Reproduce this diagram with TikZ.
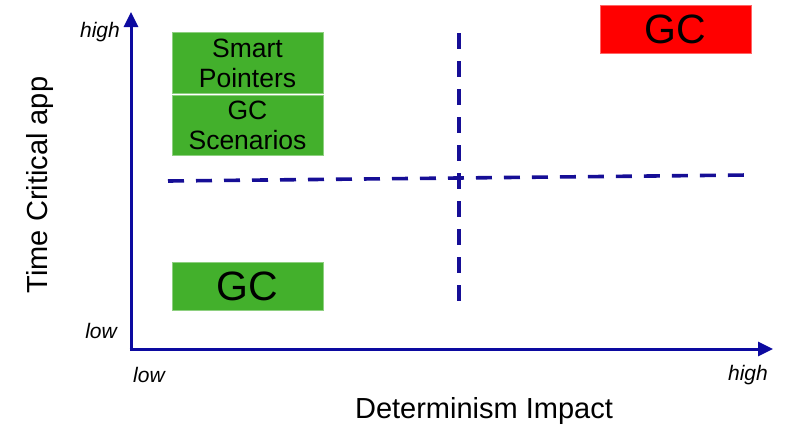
\documentclass[tikz,border=0pt]{standalone}
\usepackage{fontspec}
\setmainfont{Liberation Sans}
\usetikzlibrary{arrows.meta}
\definecolor{axisblue}{RGB}{12,10,160}
\definecolor{dashblue}{RGB}{22,14,150}
\definecolor{boxgreen}{RGB}{67,176,44}
\definecolor{boxred}{RGB}{255,0,0}
\begin{document}
\begin{tikzpicture}[x=1pt,y=-1pt,
  axis/.style={draw=axisblue,line width=3pt,-{Triangle[length=15pt,width=14pt]}},
  divider/.style={draw=dashblue,line width=3.6pt,dash pattern=on 16pt off 12pt},
  gbox/.style={fill=boxgreen,draw=boxgreen!60!white,line width=0.6pt,minimum width=151pt,inner sep=0pt,align=center,font=\fontsize{26.5}{30}\selectfont},
  rbox/.style={fill=boxred,draw=boxred!60!white,line width=0.6pt,minimum width=151pt,minimum height=48pt,inner sep=0pt,font=\fontsize{41}{44}\selectfont},
  tick/.style={font=\itshape\fontsize{21}{24}\selectfont,inner sep=0pt},
  axlabel/.style={font=\fontsize{29}{32}\selectfont,inner sep=0pt}]
\useasboundingbox (0,0) rectangle (790,431);
% axes
\coordinate (origin) at (131,349);
\coordinate (ytip) at (131,12);
\coordinate (xtip) at (773,349);
\draw[axis] ([yshift=1.5pt]origin) -- (ytip);
\draw[axis] ([xshift=-1.5pt]origin) -- (xtip);
% quadrant dividers
\coordinate (vtop) at (459,33);
\coordinate (vbot) at (459,301);
\coordinate (hleft) at (168,181);
\coordinate (hright) at (748,175);
\draw[divider] (vtop) -- (vbot);
\draw[divider] (hleft) -- (hright);
% boxes
\node[gbox,minimum height=61pt] (smart) at (247.5,63) {Smart\\Pointers};
\node[gbox,minimum height=60pt] (scen) at (247.5,125) {GC\\Scenarios};
\node[gbox,minimum height=48pt,font=\fontsize{41}{44}\selectfont] (gclow) at (247.5,286) {GC};
\node[rbox] (gchigh) at (675.5,29) {GC};
% tick labels
\node[tick,anchor=east] (yhigh) at (120,32) {high};
\node[tick,anchor=east] (ylow) at (117,331) {low};
\node[tick,anchor=west] (xlow) at (133,375) {low};
\node[tick,anchor=east] (xhigh) at (768,375) {high};
% axis titles
\node[axlabel,rotate=90] (ytitle) at (40,185) {Time Critical app};
\node[axlabel] (xtitle) at (484,411) {Determinism Impact};
\end{tikzpicture}
\end{document}
